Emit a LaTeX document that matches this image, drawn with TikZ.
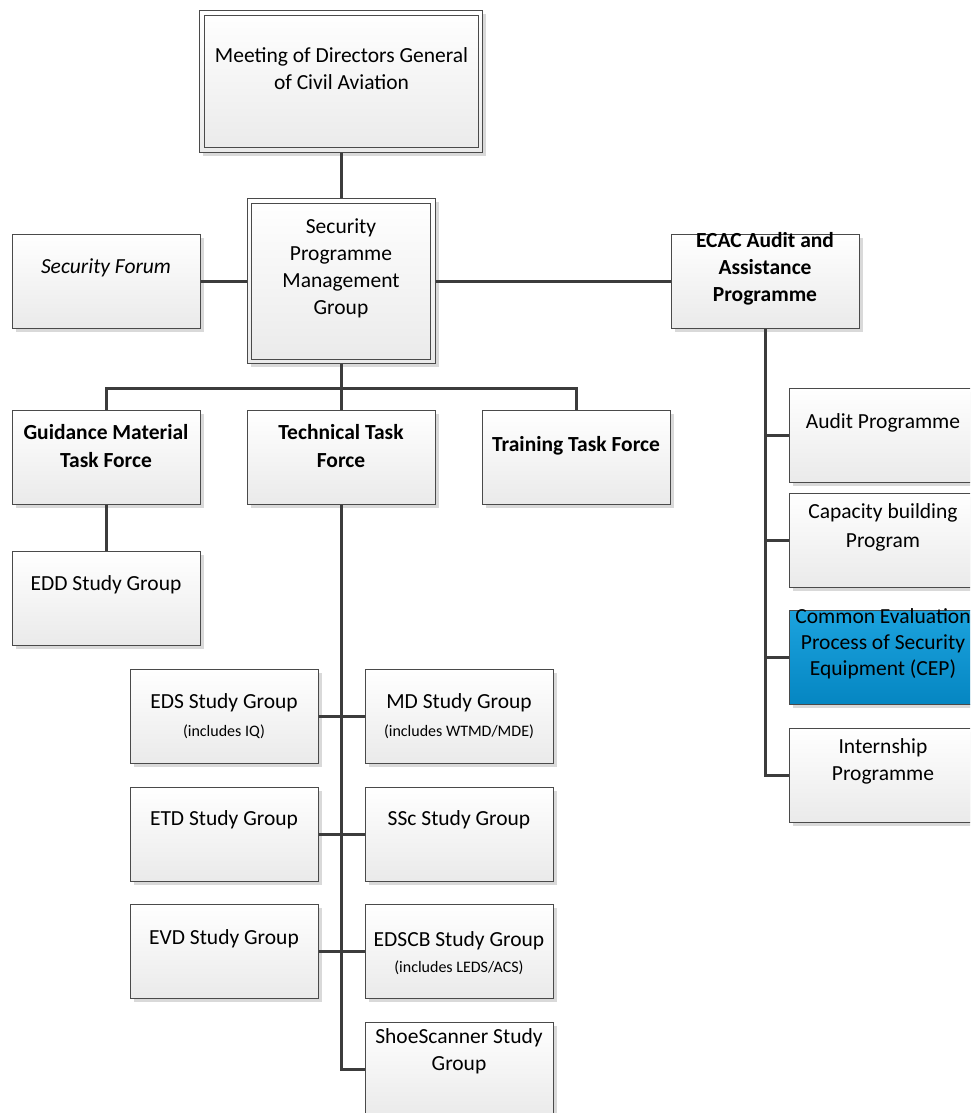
\documentclass[tikz,border=0pt]{standalone}
\usepackage{fontspec}
\setmainfont{Carlito}
\usetikzlibrary{shadows}
\definecolor{edge}{HTML}{4A4A4A}
\definecolor{wire}{HTML}{3C3C3C}
\definecolor{boxbot}{HTML}{EAEAEA}
\definecolor{cepTop}{HTML}{1CA3DE}
\definecolor{cepBot}{HTML}{0586C2}
\definecolor{shade}{HTML}{D9D9D9}
\tikzset{
  orgbox/.style={draw=edge, line width=1pt, top color=white, bottom color=boxbot,
    minimum width=188pt, minimum height=94pt, inner sep=0pt,
    drop shadow={shadow xshift=3.5pt, shadow yshift=-3.5pt, fill=shade, opacity=1}},
  wirestyle/.style={draw=wire, line width=3pt},
  lbl/.style={align=center, font=\fontsize{21.5}{27}\selectfont, inner sep=0pt, text=black},
  sublbl/.style={align=center, font=\fontsize{16}{19}\selectfont, inner sep=0pt, text=black},
}
\begin{document}
\begin{tikzpicture}[x=1pt, y=-1pt]
\useasboundingbox (0,0) rectangle (970,1113);
\clip (0,0) rectangle (970,1113);

% boxes
\node[orgbox, minimum width=283pt, minimum height=141pt] (meet) at (341,81.5) {};
\node[orgbox, minimum height=165pt] (spmg) at (341,281) {};
\node[orgbox] (sf) at (106,281) {};
\node[orgbox] (ecac) at (765,281) {};
\node[orgbox] (gmtf) at (106,457) {};
\node[orgbox] (tech) at (341,457) {};
\node[orgbox] (train) at (576,457) {};
\node[orgbox] (edd) at (106,598) {};
\node[orgbox] (audit) at (883,435) {};
\node[orgbox] (capa) at (883,540) {};
\node[orgbox, top color=cepTop, bottom color=cepBot] (cep) at (883,657) {};
\node[orgbox] (intern) at (883,775) {};
\node[orgbox] (eds) at (224,716) {};
\node[orgbox] (md) at (459,716) {};
\node[orgbox] (etd) at (224,834) {};
\node[orgbox] (ssc) at (459,834) {};
\node[orgbox] (evd) at (224,951) {};
\node[orgbox] (edscb) at (459,951) {};
\node[orgbox] (shoe) at (459,1069) {};

% inner borders of the double-framed boxes
\draw[edge, line width=1pt] ([shift={(5,5)}]meet.north west) rectangle ([shift={(-5,-5)}]meet.south east);
\draw[edge, line width=1pt] ([shift={(5,5)}]spmg.north west) rectangle ([shift={(-5,-5)}]spmg.south east);

% connectors
\coordinate (bus) at (341,388);
\draw[wirestyle] (meet.south) -- (spmg.north);
\draw[wirestyle] (sf.east) -- (spmg.west);
\draw[wirestyle] (spmg.east) -- (ecac.west);
\draw[wirestyle] (spmg.south) -- (bus);
\draw[wirestyle] (gmtf.north) |- (bus);
\draw[wirestyle] (train.north) |- (bus);
\draw[wirestyle] (tech.north) -- (tech.north |- bus);
\draw[wirestyle] (gmtf.south) -- (edd.north);
\draw[wirestyle] (ecac.south) |- (intern.west);
\draw[wirestyle] (ecac.south |- audit.west) -- (audit.west);
\draw[wirestyle] (ecac.south |- capa.west) -- (capa.west);
\draw[wirestyle] (ecac.south |- cep.west) -- (cep.west);
\draw[wirestyle] (tech.south) |- (shoe.west);
\draw[wirestyle] (eds.east) -- (md.west);
\draw[wirestyle] (etd.east) -- (ssc.west);
\draw[wirestyle] (evd.east) -- (edscb.west);

% texts
\node[lbl] (tmeet) at (341.5,69) {Meeting of Directors General\\of Civil Aviation};
\node[lbl] (tspmg) at (341,268) {Security\\Programme\\Management\\Group};
\node[lbl, font=\fontsize{21.5}{27}\selectfont\itshape] (tsf) at (106,268) {Security Forum};
\node[lbl, font=\fontsize{21.5}{27}\selectfont\bfseries] (tecac) at (765,269) {ECAC Audit and\\Assistance\\Programme};
\node[lbl, font=\fontsize{21.5}{28}\selectfont\bfseries] (tgmtf) at (106,446) {Guidance Material\\Task Force};
\node[lbl, font=\fontsize{21.5}{28}\selectfont\bfseries] (ttech) at (341,446) {Technical Task\\Force};
\node[lbl, font=\fontsize{21.5}{28}\selectfont\bfseries] (ttrain) at (576,446) {Training Task Force};
\node[lbl] (tedd) at (106,585) {EDD Study Group};
\node[lbl] (taudit) at (883,423) {Audit Programme};
\node[lbl, font=\fontsize{21.5}{29}\selectfont] (tcapa) at (883,527.5) {Capacity building\\Program};
\node[lbl, font=\fontsize{21.5}{26}\selectfont] (tcep) at (883,644) {Common Evaluation\\Process of Security\\Equipment (CEP)};
\node[lbl] (tintern) at (883,761.5) {Internship\\Programme};
\node[lbl] (teds) at (224,703) {EDS Study Group};
\node[sublbl] (seds) at (224,732) {(includes IQ)};
\node[lbl] (tmd) at (459,703) {MD Study Group};
\node[sublbl] (smd) at (459,732) {(includes WTMD/MDE)};
\node[lbl] (tetd) at (224,820) {ETD Study Group};
\node[lbl] (tssc) at (459,820) {SSc Study Group};
\node[lbl] (tevd) at (224,939) {EVD Study Group};
\node[lbl] (tedscb) at (459,941) {EDSCB Study Group};
\node[sublbl] (sedscb) at (459,968) {(includes LEDS/ACS)};
\node[lbl] (tshoe) at (459,1051) {ShoeScanner Study\\Group};
\end{tikzpicture}
\end{document}
